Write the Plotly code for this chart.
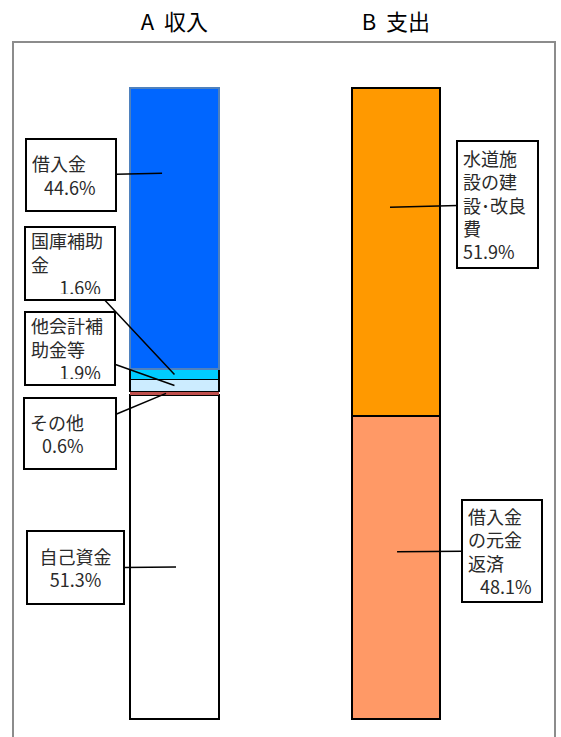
import plotly.graph_objects as go

# ---- data -------------------------------------------------------------
categories = ["A\u00a0\u00a0収入", "B\u00a0\u00a0支出"]

income_labels = ["自己資金", "その他", "他会計補助金等", "国庫補助金", "借入金"]
income_values = [51.3, 0.6, 1.9, 1.6, 44.6]

expense_labels = ["借入金の元金返済", "水道施設の建設・改良費"]
expense_values = [48.1, 51.9]

# ---- styling ----------------------------------------------------------
FONT = "Noto Sans CJK JP, Noto Sans, sans-serif"
income_colors = ["#FFFFFF", "#C0504D", "#CCECFF", "#00CCFF", "#0066FF"]
income_lines = ["#000000", "#C0504D", "#000000", "#000000", "#4F81BD"]
income_line_w = [2, 0, 1.5, 1.5, 2]
expense_colors = ["#FF9966", "#FF9900"]
BAR_W = 0.40

fig = go.Figure()

for lab, val, col, lc, lw in zip(income_labels, income_values, income_colors,
                                 income_lines, income_line_w):
    fig.add_trace(go.Bar(
        x=[categories[0]], y=[val], name=lab, width=BAR_W,
        marker=dict(color=col, line=dict(color=lc, width=lw)),
        hoverinfo="skip", showlegend=False,
    ))

for lab, val, col in zip(expense_labels, expense_values, expense_colors):
    fig.add_trace(go.Bar(
        x=[categories[1]], y=[val], name=lab, width=BAR_W,
        marker=dict(color=col, line=dict(color="#000000", width=2)),
        hoverinfo="skip", showlegend=False,
    ))

# ---- callout labels ---------------------------------------------------
def pct(v):
    return f"{v:.1f}%"

NB = "\u00a0"
callouts = [
    # text, anchor x (category index), anchor y (%), box offset px, box size px, align
    ("借入金<br>" + NB * 3 + pct(income_values[4]), -0.056, 86.5, (-91, 2), (92, 74), "left"),
    ("国庫補助<br>金<br>" + NB * 7 + pct(income_values[3]), 0.0, 54.6, (-104, -111), (92, 75), "left"),
    ("他会計補<br>助金等<br>" + NB * 7 + pct(income_values[2]), 0.0, 52.85, (-104, -37), (92, 75), "left"),
    ("その他<br>" + NB * 3 + pct(income_values[1]), -0.038, 51.6, (-96, 40), (94, 73), "left"),
    ("自己資金<br>" + pct(income_values[0]), 0.007, 24.1, (-101, 1), (99, 75), "center"),
    ("水道施<br>設の建<br>設･改良<br>費<br>" + pct(expense_values[1]), 0.973, 81.1, (108, -3), (83, 129), "left"),
    ("借入金<br>の元金<br>返済<br>" + NB * 3 + pct(expense_values[0]), 1.005, 26.5, (105, -1), (82, 104), "left"),
]

PAD, BW = 5, 2
for text, ax_, ay_, (dx, dy), (w, h), align in callouts:
    fig.add_annotation(
        x=ax_, y=ay_, xref="x", yref="y",
        text=text, align=align, valign="middle",
        showarrow=True, arrowhead=0, arrowwidth=1.5, arrowcolor="#000000",
        standoff=0, ax=dx, ay=dy,
        width=w - 2 * (PAD + BW), height=h - 2 * (PAD + BW),
        bgcolor="#FFFFFF", bordercolor="#000000", borderwidth=BW, borderpad=PAD,
        font=dict(family=FONT, size=18, color="#2A2A2A"),
    )

# outer frame
fig.add_shape(type="rect", xref="paper", yref="paper",
              x0=0, x1=1, y0=-0.05, y1=1,
              line=dict(color="#8C8C8C", width=2), layer="below")

fig.update_layout(
    width=561, height=737,
    margin=dict(l=13, r=6, t=42, b=0),
    paper_bgcolor="#FFFFFF", plot_bgcolor="#FFFFFF",
    barmode="stack", hovermode=False, showlegend=False,
    font=dict(family=FONT, color="#000000"),
    xaxis=dict(
        type="category", categoryorder="array", categoryarray=categories,
        range=[-0.729, 1.718], side="top", showgrid=False, zeroline=False,
        showline=False, ticks="", ticklabelstandoff=7,
        tickfont=dict(family=FONT, size=22, color="#000000"),
        fixedrange=True,
    ),
    yaxis=dict(range=[-2.85, 107.29], visible=False, fixedrange=True),
)

fig.write_html("out.html")
